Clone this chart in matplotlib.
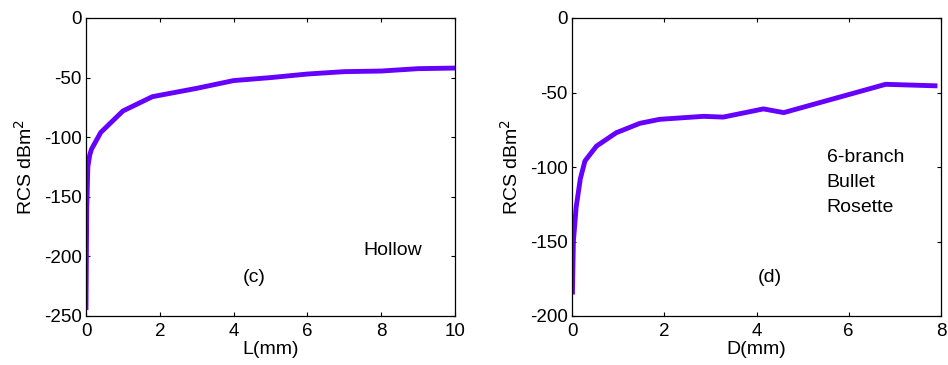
import matplotlib
matplotlib.use("Agg")
import matplotlib.pyplot as plt

plt.rcParams['font.family'] = ['Liberation Sans', 'DejaVu Sans']
plt.rcParams['axes.unicode_minus'] = False

# Panel (c): hollow
L_mm = [0.0, 0.02, 0.05, 0.1, 0.15, 0.4, 1.0, 1.8, 3.0, 4.0, 5.0, 6.0, 7.0, 8.0, 9.0, 10.0]
rcs_c = [-243, -160, -125, -115, -110, -96, -78, -66, -59, -52.5, -50, -47, -45, -44.5, -42.5, -42]

# Panel (d): 6-branch bullet rosette
D_mm = [0.01, 0.03, 0.09, 0.18, 0.28, 0.53, 0.96, 1.47, 1.9, 2.85, 3.28, 4.15, 4.59, 6.8, 7.87]
rcs_d = [-184, -150, -127, -108, -96, -86, -77, -70.7, -68, -66, -66.5, -61, -63.5, -44.5, -45.5]

color = '#6600FF'
fig = plt.figure(figsize=(9.48, 3.65), dpi=100)
W, H = 948, 365
ax1 = fig.add_axes([86 / W, 1 - 316 / H, 369 / W, 298 / H])
ax2 = fig.add_axes([572 / W, 1 - 316 / H, 369 / W, 298 / H])

fs = 14
for ax in (ax1, ax2):
    ax.tick_params(direction='in', top=True, right=True, labelsize=13.5, length=3, width=0.8)
    ax.tick_params(axis='x', pad=5)
    ax.tick_params(axis='y', pad=3)
    for s in ax.spines.values():
        s.set_linewidth(0.9)
    ax.set_ylabel('RCS dBm$^2$', fontsize=fs, labelpad=6)

ax1.plot(L_mm, rcs_c, color=color, lw=3.5, solid_joinstyle='round')
ax1.set_xlim(0, 10)
ax1.set_ylim(-250, 0)
ax1.set_xticks([0, 2, 4, 6, 8, 10])
ax1.set_yticks([-250, -200, -150, -100, -50, 0])
ax1.set_xlabel('L(mm)', fontsize=fs, labelpad=1)
ax1.text(7.51, -198.8, 'Hollow', fontsize=fs, ha='left', va='baseline')
ax1.text(4.25, -221.5, '(c)', fontsize=fs, ha='left', va='baseline')

ax2.plot(D_mm, rcs_d, color=color, lw=3.5, solid_joinstyle='round')
ax2.set_xlim(0, 8)
ax2.set_ylim(-200, 0)
ax2.set_xticks([0, 2, 4, 6, 8])
ax2.set_yticks([-200, -150, -100, -50, 0])
ax2.set_xlabel('D(mm)', fontsize=fs, labelpad=1)
for txt, yb in zip(['6-branch', 'Bullet', 'Rosette'], [-96.8, -113.6, -130.0]):
    ax2.text(5.52, yb, txt, fontsize=fs, ha='left', va='baseline')
ax2.text(4.03, -177, '(d)', fontsize=fs, ha='left', va='baseline')

fig.savefig('out.png', dpi=100)
